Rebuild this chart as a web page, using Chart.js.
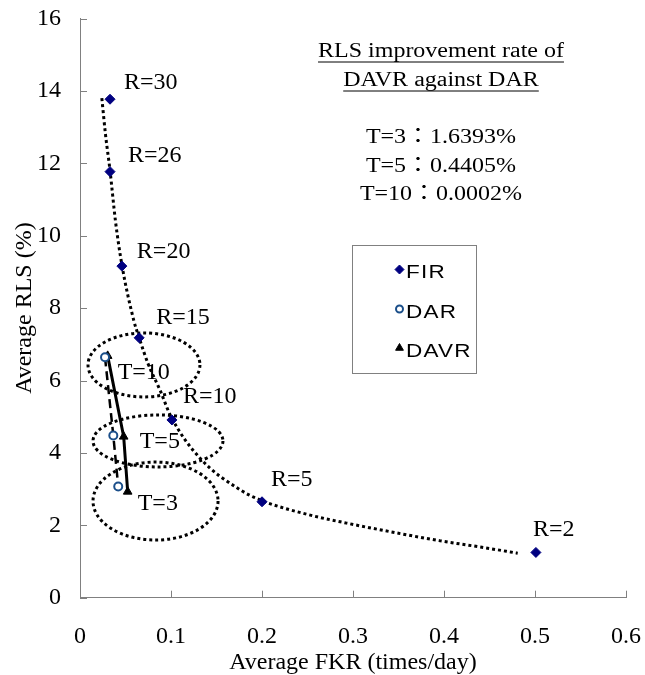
<!DOCTYPE html>
<html>
<head>
<meta charset="utf-8">
<script src="https://cdn.jsdelivr.net/npm/chart.js@4.4.1/dist/chart.umd.min.js"></script>
<style>
  html, body { margin: 0; padding: 0; background: #fff; }
  #wrap { width: 645px; height: 675px; position: relative; }
</style>
</head>
<body>
<div id="wrap"><canvas id="chart"></canvas></div>
<script>
// ---- data ----
const firX = [0.033, 0.033, 0.046, 0.065, 0.101, 0.200, 0.501];
const firY = [13.77, 11.77, 9.16, 7.18, 4.91, 2.65, 1.25];
const firLabels = ['R=30', 'R=26', 'R=20', 'R=15', 'R=10', 'R=5', 'R=2'];

const darX = [0.0275, 0.0366, 0.042];
const darY = [6.64, 4.48, 3.07];

const davrX = [0.0304, 0.048, 0.0524];
const davrY = [6.68, 4.45, 2.93];
const tLabels = ['T=10', 'T=5', 'T=3'];

// dotted trend curve through the FIR points
const trendX = [0.024, 0.028, 0.033, 0.039, 0.046, 0.059, 0.065, 0.075, 0.088, 0.1, 0.132, 0.176, 0.2, 0.25, 0.293, 0.35, 0.396, 0.44, 0.481];
const trendY = [13.8, 12.8, 11.8, 10.4, 9.2, 7.67, 7.18, 6.45, 5.73, 5.0, 3.85, 2.98, 2.68, 2.3, 2.06, 1.78, 1.57, 1.4, 1.23];

// dotted rings around each T group (centre and half-axes in data units)
const ringCx = [0.0703, 0.0857, 0.083];
const ringCy = [6.43, 4.33, 2.67];
const ringRx = [0.0615, 0.0714, 0.0687];
const ringRy = [0.884, 0.718, 1.077];

const xTicks = [0, 0.1, 0.2, 0.3, 0.4, 0.5, 0.6];
const yTicks = [0, 2, 4, 6, 8, 10, 12, 14, 16];

const noteTitle = ['RLS improvement rate of', 'DAVR against DAR'];
const noteRates = ['T=3：1.6393%', 'T=5：0.4405%', 'T=10：0.0002%'];

// label placement (pixel offsets from the point)
const firLabelOffset = [[14, -17], [18, -16], [15, -14], [17, -20], [11, -23], [9, -22], [-3, -23]];
const tLabelOffset = [[10, 17], [16, 5], [10, 12]];

const SERIF = "'Liberation Serif', 'Times New Roman', serif";
const SANS = "'Liberation Sans', Arial, sans-serif";
const AXIS = '#808080';
const NAVY = '#000080';
const DARBLUE = '#1b4f8a';

const pts = (xs, ys) => xs.map((v, i) => ({ x: v, y: ys[i] }));

const overlay = {
  id: 'overlay',
  beforeDatasetsDraw(chart) {
    const { ctx, scales: { x, y } } = chart;
    ctx.save();
    ctx.strokeStyle = '#000';
    ctx.lineWidth = 3;
    ctx.setLineDash([3, 3]);
    ringCx.forEach((cx, i) => {
      const px = x.getPixelForValue(cx);
      const py = y.getPixelForValue(ringCy[i]);
      const rx = x.getPixelForValue(cx + ringRx[i]) - px;
      const ry = py - y.getPixelForValue(ringCy[i] + ringRy[i]);
      ctx.beginPath();
      ctx.ellipse(px, py, rx, ry, 0, 0, Math.PI * 2);
      ctx.stroke();
    });
    ctx.restore();
  },
  afterDraw(chart) {
    const { ctx, chartArea: a, scales: { x, y } } = chart;
    ctx.save();

    // inside tick marks
    ctx.strokeStyle = AXIS;
    ctx.lineWidth = 1;
    xTicks.forEach((v) => {
      const px = Math.round(x.getPixelForValue(v)) + 0.5;
      ctx.beginPath(); ctx.moveTo(px, a.bottom); ctx.lineTo(px, a.bottom - 7); ctx.stroke();
    });
    yTicks.forEach((v) => {
      const py = Math.round(y.getPixelForValue(v)) + 0.5;
      ctx.beginPath(); ctx.moveTo(a.left, py); ctx.lineTo(a.left + 7, py); ctx.stroke();
    });

    // point labels
    ctx.fillStyle = '#000';
    ctx.font = '24px ' + SERIF;
    ctx.textAlign = 'left';
    ctx.textBaseline = 'middle';
    firLabels.forEach((t, i) => {
      const px = x.getPixelForValue(firX[i]), py = y.getPixelForValue(firY[i]);
      ctx.fillText(t, px + firLabelOffset[i][0], py + firLabelOffset[i][1]);
    });
    tLabels.forEach((t, i) => {
      const px = x.getPixelForValue(davrX[i]), py = y.getPixelForValue(davrY[i]);
      ctx.fillText(t, px + tLabelOffset[i][0], py + tLabelOffset[i][1]);
    });

    // note block, top right
    const cx = 441, sx = 1.2;
    ctx.font = "20px 'Liberation Serif', 'Noto Sans CJK JP', serif";
    ctx.textBaseline = 'alphabetic';
    const line = (t, by, underline) => {
      const w = ctx.measureText(t).width * sx;
      ctx.save();
      ctx.translate(cx - w / 2, by);
      ctx.scale(sx, 1);
      ctx.fillText(t, 0, 0);
      ctx.restore();
      if (underline) {
        ctx.strokeStyle = '#000';
        ctx.lineWidth = 1;
        ctx.beginPath(); ctx.moveTo(cx - w / 2, by + 5.5); ctx.lineTo(cx + w / 2, by + 5.5); ctx.stroke();
      }
    };
    line(noteTitle[0], 56.5, true);
    line(noteTitle[1], 85.5, true);
    noteRates.forEach((t, i) => line(t, 143 + i * 28.5, false));

    // legend box
    ctx.strokeStyle = AXIS;
    ctx.lineWidth = 1;
    ctx.strokeRect(352.5, 245.5, 124, 128);
    const ds = chart.data.datasets.slice(0, 3);
    ctx.font = '18px ' + SANS;
    ctx.textBaseline = 'middle';
    ds.forEach((d, i) => {
      const my = [269.5, 309, 348][i];
      ctx.fillStyle = d.pointBackgroundColor;
      ctx.strokeStyle = d.pointBorderColor;
      ctx.lineWidth = d.pointBorderWidth;
      Chart.helpers.drawPoint(ctx, { pointStyle: d.pointStyle, radius: d.pointRadius - 0.5, borderWidth: d.pointBorderWidth, rotation: 0 }, 399.5, my);
      ctx.fillStyle = '#000';
      ctx.save();
      ctx.translate(406, my + 4);
      ctx.scale(1.25, 1);
      ctx.letterSpacing = '1px';
      ctx.fillText(d.label, 0, 0);
      ctx.restore();
    });
    ctx.restore();
  }
};

new Chart(document.getElementById('chart'), {
  type: 'scatter',
  data: {
    datasets: [
      {
        label: 'FIR',
        data: pts(firX, firY),
        showLine: false,
        pointStyle: 'rectRot',
        pointRadius: 5,
        pointBorderWidth: 1,
        pointBackgroundColor: NAVY,
        pointBorderColor: NAVY,
      },
      {
        label: 'DAR',
        data: pts(darX, darY),
        showLine: true,
        borderColor: '#000',
        borderWidth: 2.5,
        borderDash: [9, 5],
        pointStyle: 'circle',
        pointRadius: 4,
        pointBorderWidth: 2,
        pointBackgroundColor: '#fff',
        pointBorderColor: DARBLUE,
      },
      {
        label: 'DAVR',
        data: pts(davrX, davrY),
        showLine: true,
        borderColor: '#000',
        borderWidth: 3,
        pointStyle: 'triangle',
        pointRadius: 5,
        pointBorderWidth: 1,
        pointBackgroundColor: '#000',
        pointBorderColor: '#000',
      },
      {
        label: 'trend',
        data: pts(trendX, trendY),
        showLine: true,
        borderColor: '#000',
        borderWidth: 3,
        borderDash: [3, 3],
        borderCapStyle: 'butt',
        cubicInterpolationMode: 'monotone',
        pointRadius: 0,
        pointHoverRadius: 0,
      },
    ],
  },
  options: {
    responsive: true,
    maintainAspectRatio: false,
    animation: false,
    layout: { padding: { top: 18.5, right: 19, left: 0, bottom: 0 } },
    plugins: { legend: { display: false }, tooltip: { enabled: false } },
    scales: {
      x: {
        type: 'linear',
        min: 0, max: 0.6,
        afterBuildTicks: (s) => { s.ticks = xTicks.map((v) => ({ value: v })); },
        afterFit: (s) => { s.height = 77.3; s.paddingLeft = 0; s.paddingRight = 0; },
        grid: { display: false, drawTicks: false },
        border: { display: true, color: AXIS, width: 1 },
        ticks: { color: '#000', padding: 25, maxRotation: 0, font: { family: SERIF, size: 24 } },
        title: {
          display: true,
          text: 'Average FKR (times/day)',
          color: '#000',
          font: { family: SERIF, size: 24, lineHeight: 1 },
          padding: { top: 0, bottom: 0 },
        },
      },
      y: {
        type: 'linear',
        min: 0, max: 16,
        afterBuildTicks: (s) => { s.ticks = yTicks.map((v) => ({ value: v })); },
        afterFit: (s) => { s.width = 80; s.paddingTop = 0; s.paddingBottom = 0; },
        grid: { display: false, drawTicks: false },
        border: { display: true, color: AXIS, width: 1 },
        ticks: { color: '#000', padding: 19, font: { family: SERIF, size: 24 } },
        title: {
          display: true,
          text: 'Average RLS (%)',
          color: '#000',
          font: { family: SERIF, size: 24, lineHeight: 1 },
          padding: { top: 13, bottom: 0 },
        },
      },
    },
  },
  plugins: [overlay],
});
</script>
</body>
</html>
